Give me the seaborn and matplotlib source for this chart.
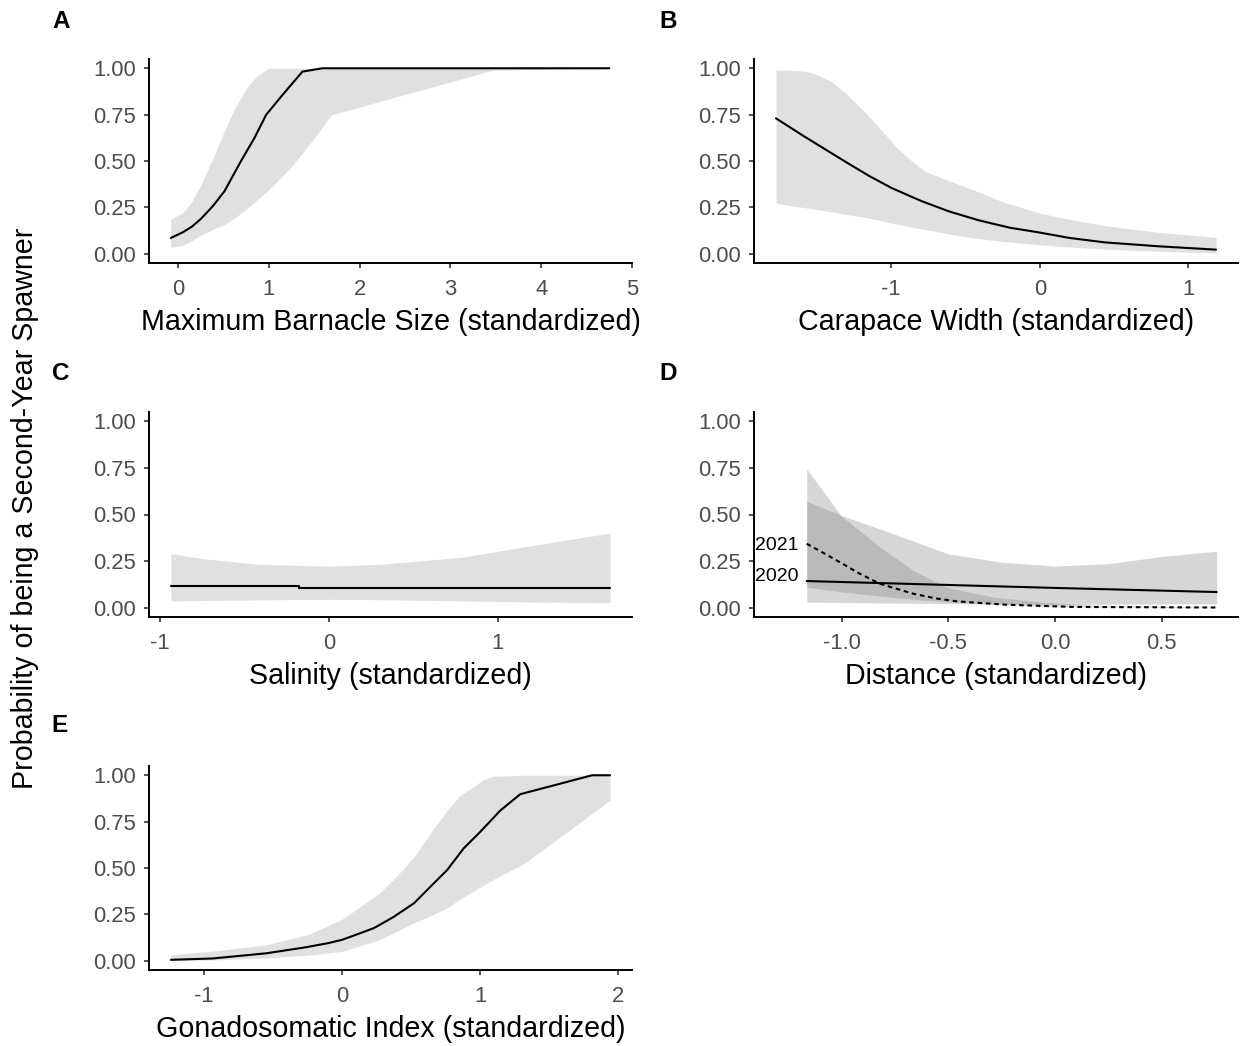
import matplotlib
matplotlib.use("Agg")
import matplotlib.pyplot as plt
import seaborn as sns
import pandas as pd

# ---- A: maximum barnacle size ----
barnacle_x = [-0.08, 0.05, 0.15, 0.25, 0.38, 0.51, 0.69, 0.84, 0.97, 1.15, 1.37, 1.59, 4.75]
barnacle_fit = [0.085, 0.115, 0.145, 0.187, 0.255, 0.336, 0.497, 0.623, 0.749, 0.856, 0.982, 1.0, 1.0]
barnacle_band_x = [-0.08, 0.05, 0.15, 0.25, 0.38, 0.5, 0.62, 0.75, 0.87, 1.0, 1.25, 1.5, 1.69, 2.5, 3.47, 4.75]
barnacle_upper = [0.187, 0.219, 0.28, 0.37, 0.51, 0.65, 0.78, 0.89, 0.96, 1.0, 1.0, 1.0, 1.0, 1.0, 1.0, 1.0]
barnacle_lower = [0.034, 0.045, 0.07, 0.10, 0.13, 0.155, 0.19, 0.24, 0.29, 0.345, 0.47, 0.623, 0.749, 0.859, 0.99, 1.0]

# ---- B: carapace width ----
carapace_x = [-1.775, -1.6, -1.31, -1.15, -0.996, -0.8, -0.61, -0.41, -0.2, -0.007, 0.2, 0.44, 0.8, 1.185]
carapace_fit = [0.73, 0.64, 0.497, 0.42, 0.354, 0.285, 0.228, 0.18, 0.14, 0.115, 0.085, 0.061, 0.04, 0.022]
carapace_band_x = [-1.775, -1.7, -1.58, -1.5, -1.40, -1.3, -1.17, -1.07, -0.97, -0.87, -0.77, -0.6,
                   -0.45, -0.25, 0.0, 0.2, 0.44, 0.8, 1.185]
carapace_upper = [0.99, 0.99, 0.985, 0.965, 0.928, 0.86, 0.758, 0.67, 0.578, 0.505, 0.443, 0.39,
                  0.345, 0.28, 0.219, 0.185, 0.151, 0.115, 0.088]
carapace_lower = [0.273, 0.262, 0.248, 0.238, 0.225, 0.212, 0.195, 0.178, 0.16, 0.145, 0.13, 0.105,
                  0.085, 0.066, 0.048, 0.036, 0.025, 0.013, 0.004]

# ---- C: salinity ----
salinity_x = [-0.934, -0.174, -0.174, 1.663]
salinity_fit = [0.114, 0.114, 0.105, 0.105]
salinity_band_x = [-0.934, -0.73, -0.41, 0.0, 0.296, 0.79, 1.24, 1.663]
salinity_upper = [0.289, 0.262, 0.232, 0.223, 0.232, 0.271, 0.339, 0.40]
salinity_lower = [0.036, 0.038, 0.042, 0.045, 0.043, 0.036, 0.030, 0.027]

# ---- D: distance, by year ----
dist20_x = [-1.164, 0.0, 0.758]
dist20_fit = [0.143, 0.106, 0.084]
dist20_band_x = [-1.164, -1.0, -0.8, -0.5, -0.25, 0.0, 0.25, 0.5, 0.758]
dist20_upper = [0.571, 0.494, 0.414, 0.289, 0.244, 0.223, 0.236, 0.275, 0.303]
dist20_lower = [0.030, 0.028, 0.025, 0.022, 0.020, 0.018, 0.019, 0.020, 0.021]
dist21_x = [-1.164, -1.08, -1.008, -0.92, -0.82, -0.665, -0.56, -0.46, -0.23, 0.086, 0.758]
dist21_fit = [0.343, 0.29, 0.244, 0.185, 0.128, 0.075, 0.05, 0.034, 0.016, 0.004, 0.001]
dist21_band_x = [-1.164, -1.0, -0.82, -0.665, -0.51, -0.29, -0.07, 0.25, 0.758]
dist21_upper = [0.745, 0.49, 0.325, 0.20, 0.11, 0.057, 0.03, 0.01, 0.004]
dist21_lower = [0.11, 0.085, 0.062, 0.045, 0.032, 0.018, 0.008, 0.003, 0.0]
year_labels = ["2021", "2020"]

# ---- E: gonadosomatic index ----
gsi_x = [-1.24, -0.94, -0.55, -0.26, -0.1, 0.0, 0.1, 0.23, 0.37, 0.52, 0.64, 0.76, 0.88, 1.0,
         1.145, 1.29, 1.81, 1.94]
gsi_fit = [0.005, 0.012, 0.04, 0.073, 0.095, 0.113, 0.14, 0.176, 0.235, 0.31, 0.40, 0.489, 0.606,
           0.695, 0.81, 0.898, 1.0, 1.0]
gsi_band_x = [-1.24, -0.9, -0.55, -0.25, 0.0, 0.27, 0.4, 0.52, 0.65, 0.76, 0.85, 0.95, 1.02, 1.1,
              1.32, 1.68, 1.94]
gsi_upper = [0.032, 0.055, 0.086, 0.14, 0.224, 0.364, 0.46, 0.56, 0.70, 0.81, 0.89, 0.937, 0.975,
             0.995, 1.0, 1.0, 1.0]
gsi_lower = [0.0, 0.005, 0.015, 0.03, 0.05, 0.113, 0.16, 0.205, 0.245, 0.285, 0.33, 0.376, 0.405,
             0.44, 0.525, 0.722, 0.866]

y_ticks = [0.0, 0.25, 0.5, 0.75, 1.0]
y_ticklabels = ["0.00", "0.25", "0.50", "0.75", "1.00"]

sns.set_theme(style="ticks")
plt.rcParams["font.family"] = ["Liberation Sans", "DejaVu Sans"]

W, H = 1243, 1046
fig = plt.figure(figsize=(W / 100, H / 100), dpi=100)

RIBBON = "#E0E0E0"
TICK_COLOR = "#4D4D4D"


def make_axes(left, right, top, bottom):
    return fig.add_axes([left / W, 1 - bottom / H, (right - left) / W, (bottom - top) / H])


def style(ax, xlim, xticks, xticklabels, xlabel):
    ax.set_xlim(*xlim)
    ax.set_ylim(-0.05, 1.05)
    ax.set_xticks(xticks)
    ax.set_xticklabels(xticklabels)
    ax.set_yticks(y_ticks)
    ax.set_yticklabels(y_ticklabels)
    ax.set_xlabel(xlabel, fontsize=20.6, color="black", labelpad=6)
    ax.set_ylabel("")
    for side in ("top", "right"):
        ax.spines[side].set_visible(False)
    for side in ("left", "bottom"):
        ax.spines[side].set_linewidth(1.4)
        ax.spines[side].set_color("black")
    ax.tick_params(axis="both", length=3.8, width=1.2, color="#333333",
                   labelcolor=TICK_COLOR, labelsize=15.8)
    ax.tick_params(axis="x", pad=7.5)
    ax.tick_params(axis="y", pad=5.6)
    ax.set_facecolor("white")


def line(ax, x, y, ls="-"):
    df = pd.DataFrame({"x": x, "y": y})
    sns.lineplot(data=df, x="x", y="y", ax=ax, color="black", linewidth=1.5,
                 linestyle=ls, estimator=None, sort=False, legend=False)


# A
axA = make_axes(149, 632, 59, 263)
axA.fill_between(barnacle_band_x, barnacle_lower, barnacle_upper, color=RIBBON, linewidth=0)
line(axA, barnacle_x, barnacle_fit)
style(axA, (-0.32, 4.99), [0, 1, 2, 3, 4, 5], ["0", "1", "2", "3", "4", "5"],
      "Maximum Barnacle Size (standardized)")

# B
axB = make_axes(754, 1238, 59, 263)
axB.fill_between(carapace_band_x, carapace_lower, carapace_upper, color=RIBBON, linewidth=0)
line(axB, carapace_x, carapace_fit)
style(axB, (-1.923, 1.333), [-1, 0, 1], ["-1", "0", "1"], "Carapace Width (standardized)")

# C
axC = make_axes(149, 632, 412, 617)
axC.fill_between(salinity_band_x, salinity_lower, salinity_upper, color=RIBBON, linewidth=0)
line(axC, salinity_x, salinity_fit)
style(axC, (-1.064, 1.793), [-1, 0, 1], ["-1", "0", "1"], "Salinity (standardized)")

# D
axD = make_axes(754, 1238, 412, 617)
axD.fill_between(dist20_band_x, dist20_lower, dist20_upper, color="#7A7A7A", alpha=0.3, linewidth=0)
axD.fill_between(dist21_band_x, dist21_lower, dist21_upper, color="#7A7A7A", alpha=0.3, linewidth=0)
line(axD, dist20_x, dist20_fit)
line(axD, dist21_x, dist21_fit, ls=(0, (2.2, 1.8)))
axD.text(dist21_x[0] - 0.04, dist21_fit[0] - 0.01, year_labels[0], ha="right", va="center",
         fontsize=14, color="black")
axD.text(dist20_x[0] - 0.04, dist20_fit[0] + 0.022, year_labels[1], ha="right", va="center",
         fontsize=14, color="black")
style(axD, (-1.411, 0.858), [-1.0, -0.5, 0.0, 0.5], ["-1.0", "-0.5", "0.0", "0.5"],
      "Distance (standardized)")

# E
axE = make_axes(149, 632, 766, 970)
axE.fill_between(gsi_band_x, gsi_lower, gsi_upper, color=RIBBON, linewidth=0)
line(axE, gsi_x, gsi_fit)
style(axE, (-1.399, 2.099), [-1, 0, 1, 2], ["-1", "0", "1", "2"],
      "Gonadosomatic Index (standardized)")

# panel letters
for letter, (px, py) in {"A": (52, 10), "B": (659, 10), "C": (52, 362),
                         "D": (659, 362), "E": (51, 714)}.items():
    fig.text(px / W, 1 - py / H, letter, ha="left", va="top", fontsize=17.5,
             fontweight="bold", color="black")

fig.text(25 / W, 1 - 508 / H, "Probability of being a Second-Year Spawner",
         rotation=90, ha="center", va="center", fontsize=20.6, color="black")

fig.savefig("out.png", dpi=100, facecolor="white")
